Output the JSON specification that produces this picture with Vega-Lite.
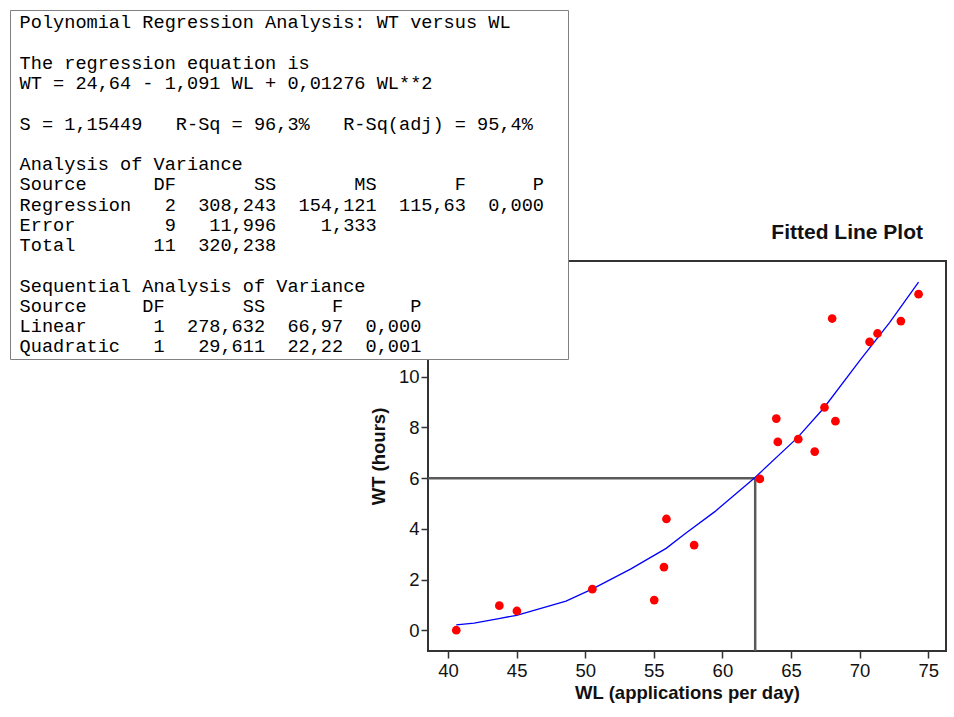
{
  "$schema": "https://vega.github.io/schema/vega-lite/v6.json",
  "width": 518,
  "height": 390,
  "autosize": {"type": "none"},
  "padding": {"left": 428, "top": 261, "right": 8, "bottom": 66},
  "background": "white",
  "title": {
    "text": "Fitted Line Plot",
    "anchor": "end",
    "font": "Liberation Sans",
    "fontSize": 21,
    "fontWeight": "bold",
    "color": "#111111",
    "dx": -23,
    "dy": 249,
    "offset": 16
  },
  "config": {
    "view": {"stroke": "#333333", "strokeWidth": 2, "fill": "white"},
    "axis": {
      "grid": false,
      "domain": false,
      "tickColor": "#333333",
      "tickWidth": 1.5,
      "tickSize": 7,
      "labelFont": "Liberation Sans",
      "labelFontSize": 18.5,
      "labelColor": "#111111",
      "titleFont": "Liberation Sans",
      "titleFontSize": 18.5,
      "titleFontWeight": "bold",
      "titleColor": "#111111"
    },
    "axisX": {"labelPadding": 3, "titlePadding": 4},
    "axisY": {"labelPadding": 2, "titlePadding": 10}
  },
  "datasets": {
    "observed": [
      {"WL": 40.6, "WT": 0.0},
      {"WL": 43.74, "WT": 0.97},
      {"WL": 45.02, "WT": 0.76},
      {"WL": 50.52, "WT": 1.62},
      {"WL": 55.03, "WT": 1.19},
      {"WL": 55.74, "WT": 2.49},
      {"WL": 55.92, "WT": 4.39},
      {"WL": 57.94, "WT": 3.36},
      {"WL": 62.73, "WT": 5.97},
      {"WL": 63.93, "WT": 8.35},
      {"WL": 64.04, "WT": 7.43},
      {"WL": 65.53, "WT": 7.54},
      {"WL": 66.73, "WT": 7.05},
      {"WL": 67.44, "WT": 8.79},
      {"WL": 68.24, "WT": 8.25},
      {"WL": 68.0, "WT": 12.3},
      {"WL": 70.73, "WT": 11.38},
      {"WL": 71.31, "WT": 11.71},
      {"WL": 73.01, "WT": 12.2},
      {"WL": 74.3, "WT": 13.26}
    ],
    "fitted": [
      {"WL": 40.6, "WT": 0.21},
      {"WL": 41.9, "WT": 0.28},
      {"WL": 43.7, "WT": 0.46},
      {"WL": 45.0, "WT": 0.59},
      {"WL": 48.6, "WT": 1.15},
      {"WL": 50.5, "WT": 1.62},
      {"WL": 53.3, "WT": 2.41},
      {"WL": 55.9, "WT": 3.23},
      {"WL": 57.3, "WT": 3.82},
      {"WL": 59.45, "WT": 4.68},
      {"WL": 62.36, "WT": 6.02},
      {"WL": 65.44, "WT": 7.58},
      {"WL": 67.38, "WT": 8.76},
      {"WL": 70.08, "WT": 10.69},
      {"WL": 72.2, "WT": 12.15},
      {"WL": 74.3, "WT": 13.74}
    ],
    "reading": [
      {"WL": 38.54, "WL_end": 62.39, "WT": 6, "WT_end": 6},
      {"WL": 62.39, "WL_end": 62.39, "WT": 6, "WT_end": -0.82}
    ],
    "session": [
      {"line": "Polynomial Regression Analysis: WT versus WL"},
      {"line": " "},
      {"line": "The regression equation is"},
      {"line": "WT = 24,64 - 1,091 WL + 0,01276 WL**2"},
      {"line": "  "},
      {"line": "S = 1,15449\u00a0\u00a0 R-Sq = 96,3%\u00a0\u00a0 R-Sq(adj) = 95,4%"},
      {"line": "   "},
      {"line": "Analysis of Variance"},
      {"line": "Source\u00a0\u00a0\u00a0\u00a0\u00a0 DF\u00a0\u00a0\u00a0\u00a0\u00a0\u00a0 SS\u00a0\u00a0\u00a0\u00a0\u00a0\u00a0 MS\u00a0\u00a0\u00a0\u00a0\u00a0\u00a0 F\u00a0\u00a0\u00a0\u00a0\u00a0 P"},
      {"line": "Regression\u00a0\u00a0 2\u00a0 308,243\u00a0 154,121\u00a0 115,63\u00a0 0,000"},
      {"line": "Error\u00a0\u00a0\u00a0\u00a0\u00a0\u00a0\u00a0 9\u00a0\u00a0 11,996\u00a0\u00a0\u00a0 1,333"},
      {"line": "Total\u00a0\u00a0\u00a0\u00a0\u00a0\u00a0 11\u00a0 320,238"},
      {"line": "    "},
      {"line": "Sequential Analysis of Variance"},
      {"line": "Source\u00a0\u00a0\u00a0\u00a0 DF\u00a0\u00a0\u00a0\u00a0\u00a0\u00a0 SS\u00a0\u00a0\u00a0\u00a0\u00a0 F\u00a0\u00a0\u00a0\u00a0\u00a0 P"},
      {"line": "Linear\u00a0\u00a0\u00a0\u00a0\u00a0 1\u00a0 278,632\u00a0 66,97\u00a0 0,000"},
      {"line": "Quadratic\u00a0\u00a0 1\u00a0\u00a0 29,611\u00a0 22,22\u00a0 0,001"}
    ]
  },
  "layer": [
    {
      "data": {"name": "reading"},
      "mark": {"type": "rule", "color": "#5a5a5a", "strokeWidth": 2.5},
      "encoding": {
        "x": {"field": "WL", "type": "quantitative", "title": "WL (applications per day)"},
        "x2": {"field": "WL_end"},
        "y": {"field": "WT", "type": "quantitative", "title": "WT (hours)"},
        "y2": {"field": "WT_end"}
      }
    },
    {
      "data": {"name": "fitted"},
      "mark": {"type": "line", "color": "#0000ff", "strokeWidth": 1.3},
      "encoding": {
        "x": {"field": "WL", "type": "quantitative", "title": "WL (applications per day)"},
        "y": {"field": "WT", "type": "quantitative", "title": "WT (hours)"}
      }
    },
    {
      "data": {"name": "observed"},
      "mark": {"type": "circle", "color": "#ff0000", "size": 76, "opacity": 1},
      "encoding": {
        "x": {
          "field": "WL",
          "type": "quantitative",
          "title": "WL (applications per day)",
          "scale": {"domain": [38.54, 76.3], "nice": false, "zero": false},
          "axis": {"values": [40, 45, 50, 55, 60, 65, 70, 75]}
        },
        "y": {
          "field": "WT",
          "type": "quantitative",
          "title": "WT (hours)",
          "scale": {"domain": [-0.82, 14.57], "nice": false, "zero": false},
          "axis": {"values": [0, 2, 4, 6, 8, 10]}
        }
      }
    },
    {
      "data": {"name": "session"},
      "mark": {"type": "point", "opacity": 0},
      "encoding": {
        "color": {
          "field": "line",
          "type": "nominal",
          "sort": null,
          "legend": {
            "title": "\u00a0",
            "titleOrient": "right",
            "titleFont": "Liberation Mono",
            "titleFontSize": 15,
            "titlePadding": 21,
            "orient": "none",
            "legendX": -418,
            "legendY": -251,
            "direction": "vertical",
            "columns": 1,
            "zindex": 1,
            "fillColor": "white",
            "strokeColor": "#808080",
            "padding": 3,
            "rowPadding": 1.25,
            "labelOffset": -12,
            "labelFont": "Liberation Mono",
            "labelFontSize": 18.6,
            "labelColor": "#000000",
            "labelLimit": 1000,
            "symbolSize": 0,
            "symbolOpacity": 0,
            "symbolStrokeWidth": 0
          }
        }
      }
    }
  ]
}
